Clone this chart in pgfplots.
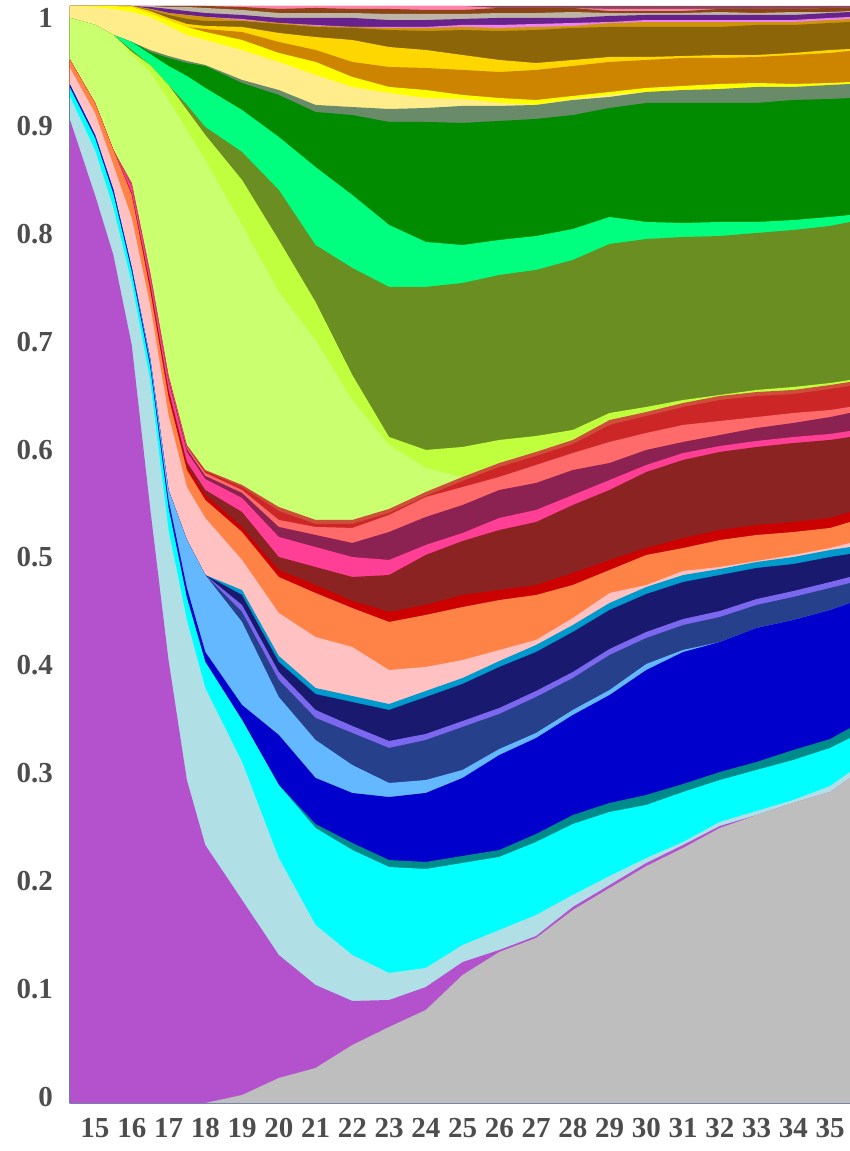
\documentclass[border=0pt]{standalone}
\usepackage{fontspec}
\setmainfont{Liberation Serif}
\usepackage{pgfplots}
\usepackage{pgfplotstable}
\pgfplotsset{compat=1.18}

% layer colours, top of the stack first
\definecolor{c01}{HTML}{8B475D}
\definecolor{c02}{HTML}{FF82AB}
\definecolor{c03}{HTML}{8B4513}
\definecolor{c04}{HTML}{BDB5A6}
\definecolor{c05}{HTML}{68228B}
\definecolor{c06}{HTML}{EE82EE}
\definecolor{c07}{HTML}{CD950C}
\definecolor{c08}{HTML}{8B6508}
\definecolor{c09}{HTML}{FFD700}
\definecolor{c10}{HTML}{CD8500}
\definecolor{c11}{HTML}{FFFF00}
\definecolor{c12}{HTML}{FFEC8B}
\definecolor{c13}{HTML}{698B69}
\definecolor{c14}{HTML}{008B00}
\definecolor{c15}{HTML}{00FF7F}
\definecolor{c16}{HTML}{6B8E23}
\definecolor{c17}{HTML}{C0FF3E}
\definecolor{c18}{HTML}{CAFF70}
\definecolor{c19}{HTML}{CD4F39}
\definecolor{c20}{HTML}{CD2626}
\definecolor{c21}{HTML}{FF6A6A}
\definecolor{c22}{HTML}{8B2252}
\definecolor{c23}{HTML}{FF3E96}
\definecolor{c24}{HTML}{8B2323}
\definecolor{c25}{HTML}{CD0000}
\definecolor{c26}{HTML}{FF8247}
\definecolor{c27}{HTML}{FFC1C1}
\definecolor{c28}{HTML}{009ACD}
\definecolor{c29}{HTML}{191970}
\definecolor{c30}{HTML}{7B68EE}
\definecolor{c31}{HTML}{27408B}
\definecolor{c32}{HTML}{63B8FF}
\definecolor{c33}{HTML}{0000CD}
\definecolor{c34}{HTML}{008B8B}
\definecolor{c35}{HTML}{00FFFF}
\definecolor{c36}{HTML}{B0E0E6}
\definecolor{c37}{HTML}{B452CD}
\definecolor{c38}{HTML}{BEBEBE}
\definecolor{labelgray}{HTML}{4D4D4D}

% cumulative share at the top of each layer
\pgfplotstableread{
x t bP b2 b3 b4 b5 b6 b7 b8 b9 b10 b11 b12 b13 b14 b15 b16 b17 b18 b19 b20 b21 b22 b23 b24 b25 b26 b27 b28 b29 b30 b31 b32 b33 b34 b35 b36 b37
14.32 1 1 1 1 1 1 1 1 1 1 1 1 .9891 .9891 .9891 .9891 .9891 .9891 .9508 .9508 .9508 .9508 .9508 .9508 .9508 .9508 .9435 .9280 .9280 .9280 .9280 .9280 .9280 .9253 .9253 .9171 .8961 0
15 1 1 1 1 1 1 1 1 1 1 1 .9991 .9827 .9827 .9827 .9827 .9827 .9827 .9116 .9116 .9116 .9116 .9116 .9116 .9116 .9116 .9025 .8824 .8824 .8824 .8824 .8824 .8824 .8797 .8797 .8687 .8277 0
15.5 1 1 1 1 1 1 1 1 1 1 1 .9973 .9736 .9736 .9736 .9736 .9736 .9736 .8687 .8687 .8687 .8687 .8687 .8687 .8687 .8687 .8551 .8323 .8323 .8323 .8323 .8323 .8323 .8286 .8286 .8159 .7730 0
16 1 1 1 1 1 1 1 1 1 .9991 .9991 .9945 .9672 .9672 .9672 .9599 .9581 .9553 .8387 .8378 .8369 .8359 .8350 .8295 .8286 .8277 .8068 .7612 .7612 .7612 .7612 .7612 .7612 .7575 .7575 .7475 .6910 0
16.5 1 1 1 1 .9991 .9973 .9973 .9964 .9954 .9936 .9936 .9900 .9599 .9581 .9562 .9462 .9462 .9398 .7575 .7566 .7557 .7548 .7539 .7466 .7448 .7411 .7274 .6791 .6791 .6791 .6791 .6791 .6755 .6709 .6709 .6591 .5424 0
17 1 1 1 .9991 .9973 .9936 .9936 .9918 .9891 .9872 .9872 .9818 .9544 .9526 .9453 .9280 .9280 .9143 .6636 .6627 .6618 .6600 .6582 .6500 .6481 .6436 .6272 .5588 .5588 .5588 .5588 .5588 .5497 .5424 .5424 .5223 .4038 0
17.5 1 1 1 .9991 .9954 .9918 .9918 .9882 .9836 .9809 .9809 .9736 .9499 .9480 .9362 .9098 .9052 .8870 .5998 .5989 .5980 .5962 .5935 .5843 .5807 .5770 .5615 .5132 .5132 .5132 .5132 .5132 .4695 .4604 .4604 .4403 .2944 0
18 1 1 1 .9982 .9936 .9900 .9900 .9863 .9818 .9790 .9763 .9690 .9462 .9453 .9253 .8897 .8824 .8596 .5770 .5761 .5743 .5716 .5688 .5588 .5542 .5497 .5333 .4813 .4813 .4813 .4813 .4813 .4111 .4020 .4020 .3783 .2352 0
19 1 1 .9991 .9964 .9918 .9882 .9872 .9863 .9809 .9763 .9690 .9599 .9326 .9298 .9052 .8669 .8414 .8004 .5634 .5615 .5588 .5561 .5515 .5387 .5251 .5205 .4950 .4676 .4631 .4540 .4476 .4385 .3628 .3491 .3491 .3109 .1851 .0073
20 1 1 .9973 .9936 .9891 .9845 .9845 .9836 .9754 .9672 .9572 .9490 .9234 .9189 .8806 .8323 .7867 .7393 .5433 .5397 .5315 .5251 .5160 .4977 .4859 .4795 .4467 .4075 .4020 .3929 .3856 .3701 .3355 .2899 .2899 .2233 .1349 .0228
21 1 1 .9982 .9936 .9891 .9827 .9818 .9809 .9717 .9599 .9490 .9371 .9098 .9034 .8532 .7821 .7302 .6955 .5315 .5278 .5251 .5178 .5068 .4886 .4722 .4649 .4248 .3783 .3728 .3583 .3510 .3309 .2963 .2543 .2507 .1623 .1076 .0319
22 1 1 .9973 .9936 .9891 .9809 .9809 .9800 .9690 .9490 .9353 .9262 .9079 .9006 .8277 .7612 .6636 .6408 .5315 .5278 .5242 .5105 .4977 .4795 .4576 .4512 .4157 .3710 .3655 .3437 .3373 .3081 .2826 .2370 .2306 .1349 .0930 .0529
23 1 1 .9973 .9927 .9872 .9809 .9800 .9781 .9626 .9444 .9262 .9207 .9061 .8943 .8004 .7439 .6071 .5998 .5415 .5378 .5360 .5205 .4950 .4813 .4476 .4385 .3947 .3637 .3583 .3300 .3236 .2917 .2789 .2215 .2151 .1185 .0939 .0693
24 1 1 .9964 .9927 .9872 .9809 .9800 .9772 .9599 .9435 .9234 .9161 .9070 .8943 .7849 .7439 .5953 .5789 .5570 .5533 .5524 .5342 .5087 .4996 .4540 .4449 .3975 .3756 .3701 .3364 .3309 .2944 .2826 .2197 .2133 .1231 .1057 .0848
25 1 1 .9964 .9927 .9882 .9827 .9809 .9781 .9553 .9417 .9189 .9152 .9089 .8934 .7821 .7475 .5980 .5707 .5707 .5670 .5615 .5451 .5196 .5123 .4631 .4521 .4038 .3874 .3820 .3482 .3428 .3036 .2963 .2252 .2188 .1440 .1285 .1167
26 1 .9982 .9982 .9936 .9891 .9827 .9800 .9772 .9508 .9398 .9161 .9116 .9089 .8952 .7867 .7548 .6044 .5834 .5834 .5798 .5707 .5588 .5333 .5223 .4676 .4585 .4130 .4029 .3975 .3601 .3546 .3227 .3172 .2306 .2243 .1577 .1395 .1377
27 1 .9982 .9982 .9936 .9891 .9836 .9809 .9781 .9480 .9417 .9143 .9098 .9098 .8970 .7903 .7594 .6080 .5935 .5935 .5898 .5816 .5652 .5406 .5296 .4722 .4631 .4221 .4175 .4111 .3756 .3701 .3373 .3327 .2452 .2379 .1714 .1522 .1504
28 1 .9982 .9982 .9945 .9891 .9845 .9818 .9800 .9508 .9453 .9180 .9152 .9143 .9006 .7967 .7685 .6135 .6044 .6044 .6007 .5925 .5770 .5542 .5451 .4831 .4722 .4421 .4357 .4294 .3929 .3874 .3583 .3537 .2625 .2543 .1896 .1787 .1759
29 1 .9973 .9954 .9936 .9909 .9854 .9845 .9809 .9535 .9490 .9216 .9189 .9171 .9070 .8077 .7831 .6290 .6226 .6226 .6181 .6026 .5834 .5679 .5588 .4950 .4859 .4649 .4558 .4494 .4139 .4084 .3765 .3719 .2735 .2653 .2069 .1987 .1960
30 1 .9973 .9954 .9936 .9918 .9872 .9854 .9809 .9535 .9508 .9253 .9216 .9216 .9116 .8031 .7876 .6345 .6299 .6299 .6263 .6108 .5953 .5816 .5752 .5059 .4996 .4722 .4704 .4640 .4294 .4239 .4002 .3947 .2808 .2717 .2233 .2188 .2160
31 1 .9973 .9954 .9936 .9918 .9872 .9854 .9809 .9544 .9526 .9271 .9234 .9234 .9116 .8022 .7894 .6408 .6381 .6381 .6345 .6181 .6026 .5925 .5862 .5150 .5059 .4850 .4813 .4749 .4412 .4357 .4130 .4111 .2908 .2835 .2379 .2352 .2325
32 1 .9973 .9973 .9945 .9918 .9872 .9854 .9809 .9553 .9526 .9289 .9243 .9243 .9116 .8031 .7903 .6454 .6445 .6445 .6408 .6217 .6089 .5989 .5935 .5223 .5132 .4886 .4868 .4813 .4485 .4430 .4202 .4202 .3017 .2944 .2562 .2525 .2507
33 1 .9973 .9973 .9936 .9918 .9872 .9854 .9827 .9553 .9535 .9298 .9262 .9262 .9116 .8031 .7931 .6500 .6481 .6481 .6445 .6253 .6153 .6035 .5980 .5269 .5178 .4941 .4932 .4877 .4594 .4540 .4330 .4330 .3109 .3036 .2662 .2625 .2625
34 1 .9973 .9973 .9945 .9918 .9872 .9854 .9827 .9572 .9553 .9289 .9262 .9262 .9143 .8049 .7958 .6527 .6500 .6500 .6463 .6290 .6199 .6071 .6016 .5296 .5205 .4996 .4977 .4913 .4667 .4613 .4403 .4403 .3218 .3127 .2762 .2735 .2735
35 1 .9982 .9982 .9945 .9936 .9891 .9872 .9845 .9599 .9572 .9298 .9280 .9280 .9152 .8077 .7995 .6563 .6545 .6545 .6509 .6317 .6253 .6099 .6044 .5333 .5242 .5059 .5041 .4977 .4749 .4695 .4494 .4494 .3318 .3236 .2890 .2835 .2835
35.54 1 .9982 .9982 .9954 .9945 .9900 .9882 .9854 .9608 .9590 .9307 .9289 .9289 .9161 .8095 .8031 .6591 .6573 .6573 .6536 .6345 .6290 .6126 .6071 .5387 .5296 .5105 .5068 .5005 .4795 .4740 .4558 .4558 .3418 .3327 .3017 .2963 .2963
}\shares

% each layer is filled from its top down to 0; lower layers paint over it
\newcommand{\layer}[2]{\addplot[draw=none, fill=#2] table[x=x, y=#1] {\shares} \closedcycle;}

\begin{document}
\begin{tikzpicture}
\begin{axis}[
  scale only axis,
  width=390pt, height=548.5pt,
  xmin=14.32, xmax=35.54, ymin=0, ymax=1,
  xtick={15,16,...,35},
  ytick={0,0.1,0.2,0.3,0.4,0.5,0.6,0.7,0.8,0.9,1},
  yticklabels={0,0.1,0.2,0.3,0.4,0.5,0.6,0.7,0.8,0.9,1},
  /pgf/number format/assume math mode=true,
  axis line style={draw=none},
  tick style={draw=none},
  major tick length=0pt,
  ticklabel style={font=\bfseries\fontsize{14.5}{14.5}\selectfont, text=labelgray},
  yticklabel style={xshift=-5pt, yshift={(3-9*\tick)*1pt}},
  xticklabel style={yshift=-4pt},
]
\layer{t}{c01}
\layer{bP}{c02}
\layer{b2}{c03}
\layer{b3}{c04}
\layer{b4}{c05}
\layer{b5}{c06}
\layer{b6}{c07}
\layer{b7}{c08}
\layer{b8}{c09}
\layer{b9}{c10}
\layer{b10}{c11}
\layer{b11}{c12}
\layer{b12}{c13}
\layer{b13}{c14}
\layer{b14}{c15}
\layer{b15}{c16}
\layer{b16}{c17}
\layer{b17}{c18}
\layer{b18}{c19}
\layer{b19}{c20}
\layer{b20}{c21}
\layer{b21}{c22}
\layer{b22}{c23}
\layer{b23}{c24}
\layer{b24}{c25}
\layer{b25}{c26}
\layer{b26}{c27}
\layer{b27}{c28}
\layer{b28}{c29}
\layer{b29}{c30}
\layer{b30}{c31}
\layer{b31}{c32}
\layer{b32}{c33}
\layer{b33}{c34}
\layer{b34}{c35}
\layer{b35}{c36}
\layer{b36}{c37}
\layer{b37}{c38}
\end{axis}
\pgfresetboundingbox
\path[use as bounding box] ([xshift=-35pt,yshift=-24pt]current axis.south west) rectangle ([yshift=3pt]current axis.north east);
\end{tikzpicture}
\end{document}
